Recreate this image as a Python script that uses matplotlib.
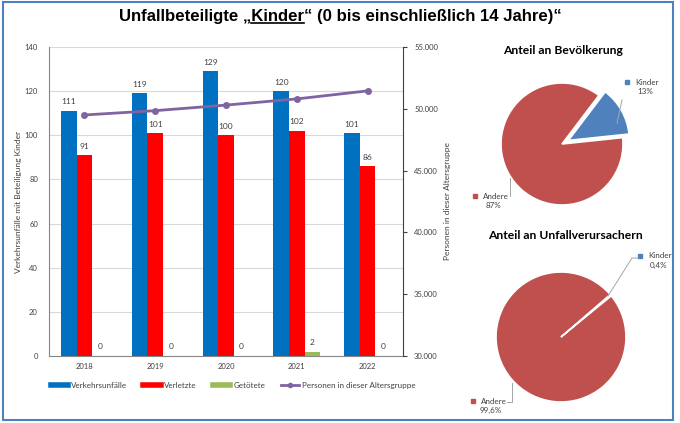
import matplotlib.pyplot as plt
import numpy as np
from matplotlib.patches import Rectangle
from matplotlib.lines import Line2D
from matplotlib.ticker import FuncFormatter

# Daten
jahre = ['2018', '2019', '2020', '2021', '2022']
unfaelle = [111, 119, 129, 120, 101]
verletzte = [91, 101, 100, 102, 86]
getoetete = [0, 0, 0, 2, 0]
personen = [49500, 49850, 50300, 50800, 51450]

bev_labels = ['Kinder', 'Andere']
bev_werte = [13, 87]
bev_texte = ['13%', '87%']
verur_labels = ['Kinder', 'Andere']
verur_werte = [0.4, 99.6]
verur_texte = ['0,4%', '99,6%']

W, H = 680, 423
GRAU = '#404040'


def fx(px):
    return px / W


def fy(py):
    return 1 - py / H


plt.rcParams['font.family'] = ['Lato', 'DejaVu Sans']
fig = plt.figure(figsize=(6.8, 4.23), dpi=100)

# Rahmen
fig.patches.append(Rectangle((fx(3), fy(420)), fx(673) - fx(3), fy(2) - fy(420),
                             transform=fig.transFigure, fill=False,
                             edgecolor='#4F81BD', linewidth=1.5))

# Titel mit unterstrichenem "Kinder"
teil1 = 'Unfallbeteiligte \u201e'
teil2 = 'Kinder'
teil3 = '\u201c (0 bis einschlie\u00dflich 14 Jahre)\u201c'
tfont = dict(fontsize=12.1, fontweight='bold', family=['Liberation Sans', 'DejaVu Sans'])
titel = fig.text(0.5, fy(17), teil1 + teil2 + teil3, ha='center', va='center', **tfont)
fig.canvas.draw()
r = fig.canvas.get_renderer()
bb = titel.get_window_extent(r)
t1 = fig.text(0, 0, teil1, **tfont)
t12 = fig.text(0, 0, teil1 + teil2, **tfont)
w1 = t1.get_window_extent(r).width
w12 = t12.get_window_extent(r).width
t1.remove()
t12.remove()
uy = bb.y0 + 1
fig.lines.append(Line2D([(bb.x0 + w1) / fig.bbox.width, (bb.x0 + w12) / fig.bbox.width],
                        [uy / fig.bbox.height, uy / fig.bbox.height],
                        transform=fig.transFigure, color='black', linewidth=1.2))

# Balkendiagramm
ax = fig.add_axes([fx(49), fy(356), fx(403) - fx(49), fy(47) - fy(356)])
x = np.arange(len(jahre))
b = 0.22
bars1 = ax.bar(x - b, unfaelle, b, color='#0070C0', label='Verkehrsunfälle', zorder=3)
bars2 = ax.bar(x, verletzte, b, color='#FF0000', label='Verletzte', zorder=3)
bars3 = ax.bar(x + b, getoetete, b, color='#9BBB59', label='Getötete', zorder=3)
for bars in (bars1, bars2, bars3):
    ax.bar_label(bars, padding=4, fontsize=6, color=GRAU)

ax.set_ylim(0, 140)
ax.set_yticks(range(0, 141, 20))
ax.set_xlim(-0.5, len(jahre) - 0.5)
ax.set_xticks(x, jahre)
ax.tick_params(axis='x', length=0, pad=5, labelsize=5.5, labelcolor=GRAU)
ax.tick_params(axis='y', length=0, pad=8, labelsize=5.5, labelcolor=GRAU)
ax.grid(axis='y', color='#D9D9D9', linewidth=0.8, zorder=0)
ax.spines['top'].set_visible(False)
ax.spines['right'].set_visible(False)
ax.spines['left'].set_color('#868686')
ax.spines['bottom'].set_color('#868686')
ax.set_ylabel('Verkehrsunfälle mit Beteiligung Kinder', fontsize=6, color=GRAU, labelpad=2)

ax2 = ax.twinx()
ax2.plot(x, personen, color='#8064A2', linewidth=2, marker='o', markersize=4,
         label='Personen in dieser Altersgruppe', zorder=4)
ax2.set_ylim(30000, 55000)
ax2.set_yticks(range(30000, 55001, 5000))
ax2.yaxis.set_major_formatter(FuncFormatter(lambda v, p: f'{int(v):,}'.replace(',', '.')))
ax2.tick_params(axis='y', length=3, width=0.8, color=GRAU, pad=5,
                labelsize=5.5, labelcolor=GRAU)
for s in ('top', 'left', 'bottom'):
    ax2.spines[s].set_visible(False)
ax2.spines['right'].set_color(GRAU)
ax2.set_ylabel('Personen in dieser Altersgruppe', fontsize=6, color=GRAU, labelpad=4)

handles = [Line2D([], [], color='#0070C0', linewidth=4),
           Line2D([], [], color='#FF0000', linewidth=4),
           Line2D([], [], color='#9BBB59', linewidth=4),
           Line2D([], [], color='#8064A2', linewidth=2, marker='o', markersize=3)]
labels = ['Verkehrsunfälle', 'Verletzte', 'Getötete', 'Personen in dieser Altersgruppe']
fig.legend(handles, labels, loc='center', bbox_to_anchor=(fx(233), fy(385)), ncol=4,
           frameon=False, fontsize=5.8, handlelength=2.2, handletextpad=0.35,
           columnspacing=2.0, labelcolor=GRAU)

farben = ['#4F81BD', '#C0504D']


def torte(cx, cy, rad, werte, start, explode):
    half = rad * 1.4
    pa = fig.add_axes([fx(cx - half), fy(cy + half), 2 * half / W, 2 * half / H])
    pa.pie(werte, colors=farben, startangle=start, counterclock=True, explode=explode,
           wedgeprops=dict(edgecolor='white', linewidth=1.2))
    pa.set_xlim(-1.4, 1.4)
    pa.set_ylim(-1.4, 1.4)
    pa.set_aspect('equal')
    pa.axis('off')
    return pa


def beschriftung(px, py, name, wert, farbe):
    fig.text(fx(px), fy(py), name, ha='left', va='center', fontsize=5.8, color=GRAU)
    fig.text(fx(px + 10), fy(py + 9), wert, ha='center', va='center', fontsize=5.8, color=GRAU)
    fig.patches.append(Rectangle((fx(px - 10), fy(py + 2)), 4 / W, 4 / H,
                                 transform=fig.transFigure, color=farbe))


def fuehrung(xs, ys):
    fig.lines.append(Line2D([fx(v) for v in xs], [fy(v) for v in ys],
                            transform=fig.transFigure, color='#A6A6A6', linewidth=0.7))


# Torte 1: Anteil an Bevölkerung
fig.text(fx(563), fy(50), 'Anteil an Bevölkerung', ha='center', va='center',
         fontsize=8.7, fontweight='bold')
torte(562, 144, 61, bev_werte, 6, [0.12, 0])
fuehrung([617, 622], [123, 100])
fuehrung([510, 510], [178, 196])
beschriftung(635, 82, bev_labels[0], bev_texte[0], farben[0])
beschriftung(483, 196, bev_labels[1], bev_texte[1], farben[1])

# Torte 2: Anteil an Unfallverursachern
fig.text(fx(565), fy(235), 'Anteil an Unfallverursachern', ha='center', va='center',
         fontsize=8.7, fontweight='bold')
torte(561, 337, 65, verur_werte, 39.3, [0.05, 0])
fuehrung([608, 632, 638], [296, 258, 258])
fuehrung([507, 512, 512], [402, 402, 383])
beschriftung(648, 256, verur_labels[0], verur_texte[0], farben[0])
beschriftung(481, 401, verur_labels[1], verur_texte[1], farben[1])

fig.savefig('out.png', dpi=100)
